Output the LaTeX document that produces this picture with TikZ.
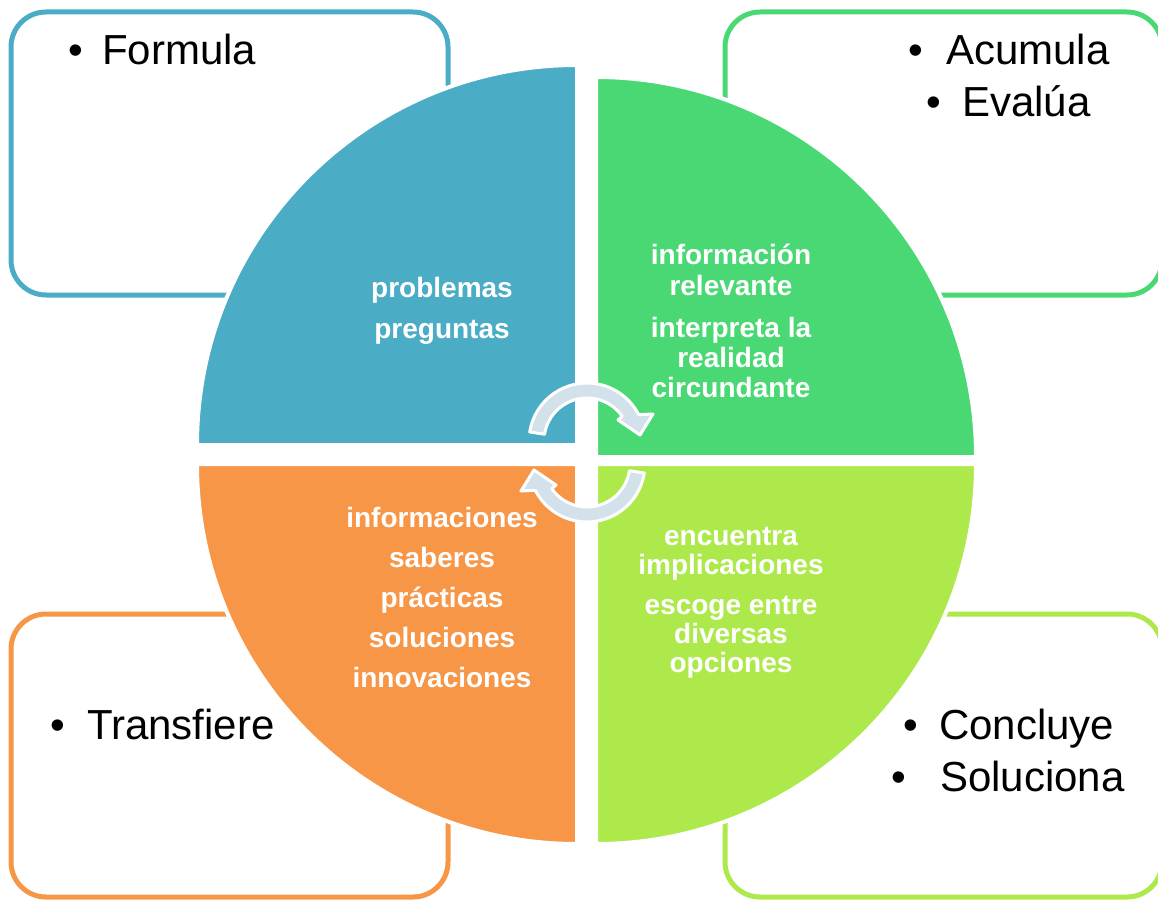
\documentclass[tikz,border=0pt]{standalone}
\usepackage{fontspec}
\setmainfont{Liberation Sans}
\definecolor{qblue}{HTML}{4BACC6}
\definecolor{qgreen}{HTML}{4AD874}
\definecolor{qorange}{HTML}{F79646}
\definecolor{qlime}{HTML}{ADE94B}
\definecolor{arrowfill}{HTML}{D3E2EA}
\begin{document}
\begin{tikzpicture}[x=1pt,y=1pt,
  box/.style={draw=#1, line width=5pt, rounded corners=35pt, fill=white, inner sep=0pt,
              minimum width=437pt, minimum height=283pt},
  quad/.style={fill=#1, draw=white, line width=4pt},
  bul/.style={font=\fontsize{42}{48}\selectfont, inner sep=0pt, anchor=base},
  btxt/.style={font=\fontsize{42}{48}\selectfont, inner sep=0pt, anchor=base west},
  qtxt/.style={font=\fontsize{28}{30}\selectfont\bfseries, text=white, inner sep=0pt, anchor=base},
  cyc/.style={fill=arrowfill, draw=white, line width=3pt, line join=round}]

\useasboundingbox (0,0) rectangle (1158,-901);

% corner boxes
\node[box=qblue]   (boxTL) at (229.5,-153.5) {};
\node[box=qgreen]  (boxTR) at (943.5,-153.5) {};
\node[box=qorange] (boxBL) at (229.5,-755.5) {};
\node[box=qlime]   (boxBR) at (943.5,-755.5) {};

% quadrants
\path[quad=qblue]   (577,-445) -- (197,-445) arc[start angle=180,end angle=90,radius=380] -- cycle;
\path[quad=qgreen]  (596,-457) -- (596,-77) arc[start angle=90,end angle=0,radius=380] -- cycle;
\path[quad=qorange] (577,-464) -- (197,-464) arc[start angle=180,end angle=270,radius=380] -- cycle;
\path[quad=qlime]   (596,-464) -- (976,-464) arc[start angle=0,end angle=-90,radius=380] -- cycle;

% cycle arrows
\begin{scope}[shift={(587,-441)}]
\path[cyc] (171:58) arc[start angle=171,end angle=27,radius=58] -- (66,27) -- (53,6) -- (31,21)
  -- (35:43) arc[start angle=35,end angle=171,radius=43] -- cycle;
\end{scope}
\begin{scope}[shift={(587,-464)},rotate=180]
\path[cyc] (171:58) arc[start angle=171,end angle=27,radius=58] -- (66,27) -- (53,6) -- (31,21)
  -- (35:43) arc[start angle=35,end angle=171,radius=43] -- cycle;
\end{scope}

% box texts
\node[bul]  (b1) at (76,-65) {\textbullet};
\node[btxt] (t1) at (102,-65) {Formula};
\node[bul]  (b2) at (916,-65) {\textbullet};
\node[btxt] (t2) at (946,-65) {Acumula};
\node[bul]  (b3) at (934,-117) {\textbullet};
\node[btxt] (t3) at (962,-117) {Evalúa};
\node[bul]  (b4) at (58,-739) {\textbullet};
\node[btxt] (t4) at (87,-739) {Transfiere};
\node[bul]  (b5) at (911,-739) {\textbullet};
\node[btxt] (t5) at (939,-739) {Concluye};
\node[bul]  (b6) at (899,-791) {\textbullet};
\node[btxt] (t6) at (940,-791) {Soluciona};

% quadrant texts
\node[qtxt] (q11) at (442,-297) {problemas};
\node[qtxt] (q12) at (442,-338) {preguntas};

\node[qtxt] (q21) at (731,-265) {información};
\node[qtxt] (q22) at (731,-295) {relevante};
\node[qtxt] (q23) at (731,-337) {interpreta la};
\node[qtxt] (q24) at (731,-367) {realidad};
\node[qtxt] (q25) at (731,-397) {circundante};

\node[qtxt] (q31) at (442,-527) {informaciones};
\node[qtxt] (q32) at (442,-567) {saberes};
\node[qtxt] (q33) at (442,-607) {prácticas};
\node[qtxt] (q34) at (442,-647) {soluciones};
\node[qtxt] (q35) at (442,-687) {innovaciones};

\node[qtxt] (q41) at (731,-545) {encuentra};
\node[qtxt] (q42) at (731,-574) {implicaciones};
\node[qtxt] (q43) at (731,-614) {escoge entre};
\node[qtxt] (q44) at (731,-643) {diversas};
\node[qtxt] (q45) at (731,-672) {opciones};
\end{tikzpicture}
\end{document}
